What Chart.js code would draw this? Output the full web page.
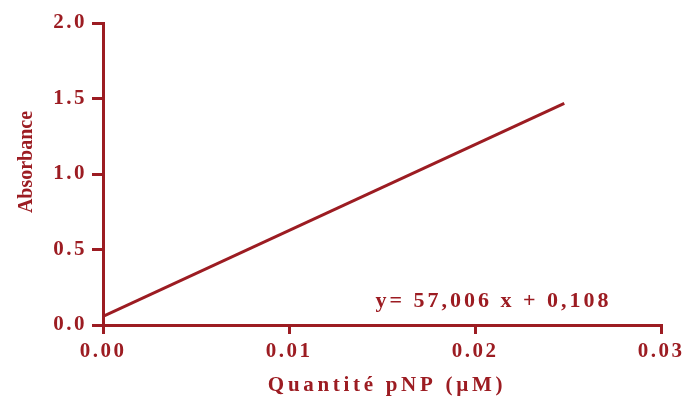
<!DOCTYPE html>
<html>
<head>
<meta charset="utf-8">
<script src="https://cdn.jsdelivr.net/npm/chart.js@4"></script>
<style>
  html, body { margin: 0; padding: 0; background: #fff; }
  #wrap { width: 685px; height: 396px; }
</style>
</head>
<body>
<div id="wrap"><canvas id="chart"></canvas></div>
<script>
// standard curve: end points of the fitted line
var quantite = [0, 0.0248];
var absorbance = [0.057, 1.468];

var xTicks = [0, 0.01, 0.02, 0.03];
var yTicks = [0, 0.5, 1.0, 1.5, 2.0];

var xTitle = 'Quantité pNP (µM)';
var yTitle = 'Absorbance';
var equation = 'y= 57,006 x + 0,108';
var equationAt = [0.01465, 0.117];

var red = '#9c1c22';
var tickFont = { family: 'Liberation Serif', size: 21, weight: 'bold' };

var labelsPlugin = {
  id: 'labels',
  beforeUpdate: function (chart) { chart.ctx.letterSpacing = '2.5px'; },
  beforeDraw: function (chart) { chart.ctx.letterSpacing = '2.5px'; },
  afterDraw: function (chart) {
    var ctx = chart.ctx;
    var xs = chart.scales.x, ys = chart.scales.y;
    ctx.save();
    ctx.fillStyle = red;
    ctx.textBaseline = 'alphabetic';

    // regression equation
    ctx.font = 'bold 22px "Liberation Serif"';
    ctx.letterSpacing = '3px';
    ctx.textAlign = 'left';
    ctx.fillText(equation, xs.getPixelForValue(equationAt[0]), ys.getPixelForValue(equationAt[1]));

    // axis titles
    ctx.font = 'bold 21px "Liberation Serif"';
    ctx.letterSpacing = '3.7px';
    ctx.textAlign = 'center';
    ctx.fillText(xTitle, 387, 391);

    ctx.font = 'bold 20px "Liberation Serif"';
    ctx.letterSpacing = '0px';
    ctx.translate(32, 162);
    ctx.rotate(-Math.PI / 2);
    ctx.fillText(yTitle, 0, 0);
    ctx.restore();
  }
};

var ctx = document.getElementById('chart').getContext('2d');

var myChart = new Chart(ctx, {
  type: 'scatter',
  data: {
    datasets: [{
      data: quantite.map(function (x, i) { return { x: x, y: absorbance[i] }; }),
      showLine: true,
      borderColor: red,
      borderWidth: 3,
      pointRadius: 0,
      pointHoverRadius: 0
    }]
  },
  options: {
    responsive: true,
    maintainAspectRatio: false,
    animation: false,
    layout: { padding: { top: 23, right: 24, left: 0, bottom: 0 } },
    plugins: {
      legend: { display: false },
      tooltip: { enabled: false }
    },
    scales: {
      x: {
        type: 'linear',
        min: 0,
        max: 0.03,
        afterBuildTicks: function (scale) {
          scale.ticks = xTicks.map(function (v) { return { value: v }; });
        },
        afterFit: function (scale) {
          scale.height = 71;
          scale.paddingRight = 0;
        },
        ticks: {
          color: red,
          font: tickFont,
          padding: 5,
          maxRotation: 0,
          callback: function (v) { return v.toFixed(2); }
        },
        grid: { drawOnChartArea: false, drawTicks: true, tickLength: 9, color: red, lineWidth: 3 },
        border: { display: true, color: red, width: 3 }
      },
      y: {
        type: 'linear',
        min: 0,
        max: 2,
        afterBuildTicks: function (scale) {
          scale.ticks = yTicks.map(function (v) { return { value: v }; });
        },
        afterFit: function (scale) {
          scale.width = 103;
          scale.paddingTop = 0;
        },
        ticks: {
          color: red,
          font: tickFont,
          padding: 5,
          callback: function (v) { return v.toFixed(1); }
        },
        grid: { drawOnChartArea: false, drawTicks: true, tickLength: 11, color: red, lineWidth: 3 },
        border: { display: true, color: red, width: 3 }
      }
    }
  },
  plugins: [labelsPlugin]
});
</script>
</body>
</html>
